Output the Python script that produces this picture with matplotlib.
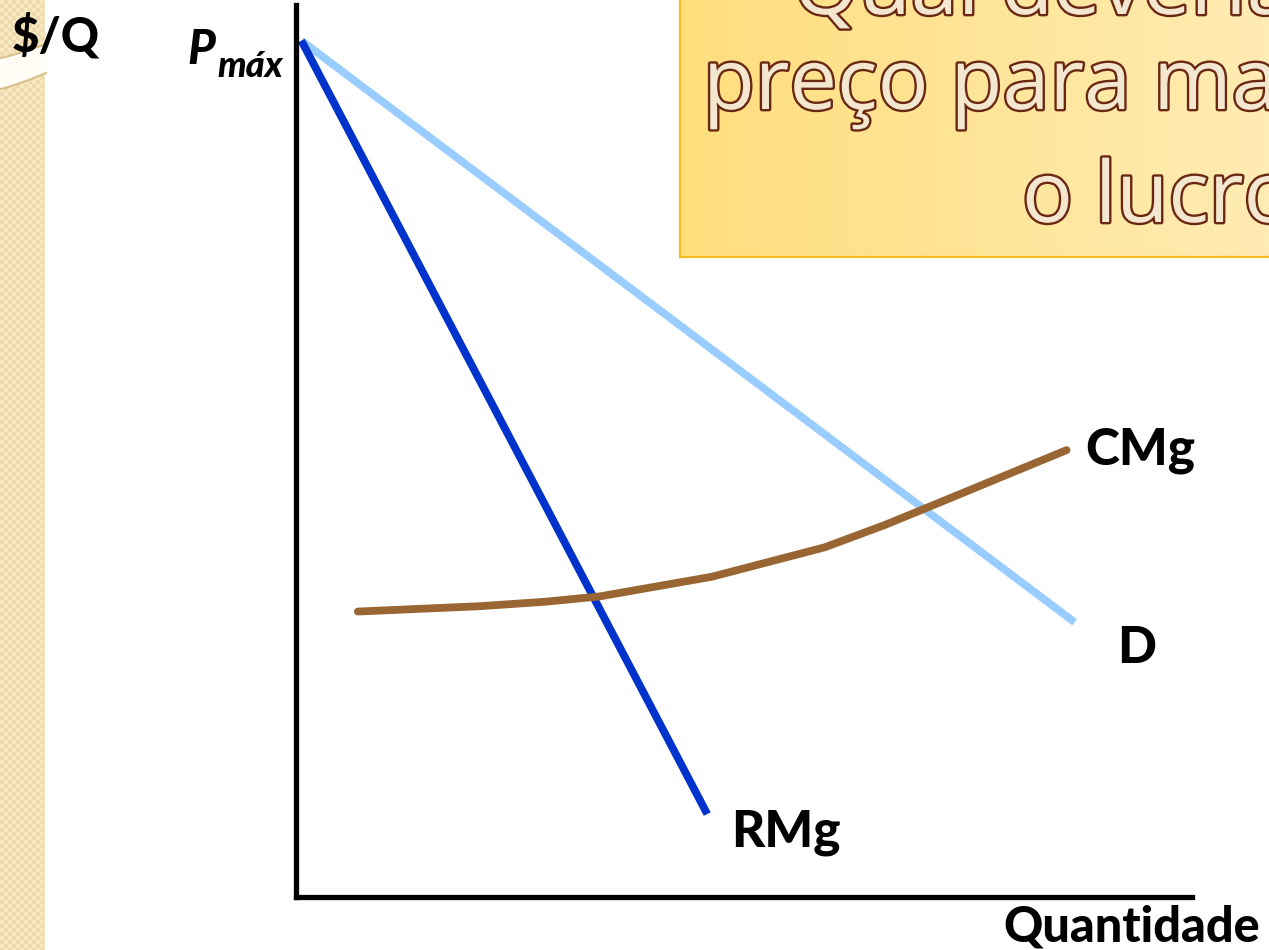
import numpy as np
import matplotlib
matplotlib.use("Agg")
import matplotlib.pyplot as plt
from matplotlib.patches import Rectangle, Polygon
import matplotlib.patheffects as pe

# curve values (quantity, price)
p_max = 9.6
q_demand = [0.06, 8.69]
p_demand = [p_max, 3.08]
q_mr = [0.06, 4.59]
p_mr = [p_max, 0.93]
q_mc = [0.69, 2.05, 2.78, 3.39, 4.64, 5.90, 6.57, 7.08, 8.60]
p_mc = [3.20, 3.26, 3.31, 3.37, 3.59, 3.92, 4.17, 4.38, 5.01]

title_lines = ["Qual deveria ser o", "preço para maximizar", "o lucro?"]

W, H = 1269, 950
fig = plt.figure(figsize=(W / 100, H / 100), dpi=100)
fig.patch.set_facecolor("white")

# slide decoration layer in pixel units
bg = fig.add_axes([0, 0, 1, 1], zorder=0)
bg.axis("off")

# textured side strip
ii, jj = np.mgrid[0:H, 0:45]
cell = ((ii // 4) + (jj // 4)) % 2
tex = np.empty((H, 45, 3))
tex[cell == 0] = np.array([247, 232, 194]) / 255
tex[cell == 1] = np.array([238, 219, 175]) / 255
bg.imshow(tex, extent=[0, 45, H, 0], aspect="auto", interpolation="nearest", zorder=1)

xs = np.linspace(0, 46, 30)
top = 58 - 14 * (xs / 46) ** 1.2
bot = 89 - 16 * (xs / 46) ** 1.2
band = np.column_stack([np.r_[xs, xs[::-1]], np.r_[top, bot[::-1]]])
bg.add_patch(Polygon(band, closed=True, facecolor="#fffdf6", edgecolor="none", zorder=2))
bg.plot(xs, top, color="#d8c08c", lw=1.5, zorder=3)
bg.plot(xs, bot, color="#d8c08c", lw=1.5, zorder=3)

# yellow title box
grad = np.linspace(0, 1, 256)[None, :, None]
c0 = np.array([255, 222, 125]) / 255
c1 = np.array([255, 236, 180]) / 255
box_img = c0 + (c1 - c0) * grad
bg.imshow(box_img, extent=[680, W + 5, 257, -5], aspect="auto", zorder=2)
bg.add_patch(Rectangle((680, -5), W + 10 - 680, 262, facecolor="none",
                       edgecolor="#f7bd1c", lw=1.6, zorder=3))

bg.set_xlim(0, W)
bg.set_ylim(H, 0)

outline = [pe.withStroke(linewidth=3.4, foreground="#6a2812")]
title_pos = [(793, 14), (703, 109), (1022, 222)]
for line, (tx, ty) in zip(title_lines, title_pos):
    bg.text(tx, ty, line, fontsize=61, family="Open Sans", color="#f3e7d0",
            ha="left", va="baseline", path_effects=outline, zorder=4)

# y axis label
bg.text(12, 51, "$/Q", fontsize=34, family="Lato", weight="black",
        color="black", ha="left", va="baseline", zorder=5)

# chart
ax = fig.add_axes([296 / W, 1 - 897 / H, (1192 - 296) / W, (897 - 5) / H], zorder=2)
ax.set_xlim(0, 10)
ax.set_ylim(0, 10)
ax.patch.set_alpha(0)
for s in ["top", "right"]:
    ax.spines[s].set_visible(False)
for s in ["left", "bottom"]:
    ax.spines[s].set_linewidth(3.8)
    ax.spines[s].set_capstyle("projecting")
ax.set_xticks([])
ax.set_yticks([])

ax.plot(q_demand, p_demand, color="#99ccff", lw=5.6, solid_capstyle="butt")
ax.plot(q_mr, p_mr, color="#0033cc", lw=5.6, solid_capstyle="butt")
ax.plot(q_mc, p_mc, color="#996633", lw=5.6, solid_capstyle="round")

lab = dict(fontsize=37, family="Lato", weight="black", color="black",
           ha="left", va="baseline", clip_on=False)
ax.text(q_mc[-1] + 0.21, p_mc[-1] - 0.16, "CMg", **lab)
ax.text(q_demand[-1] + 0.47, p_demand[-1] - 0.46, "D", **lab)
ax.text(q_mr[-1] + 0.27, p_mr[-1] - 0.36, "RMg", **lab)

# P max on the price axis
bg.text(187, 64, "P", fontsize=34, family="Lato", weight="black", style="italic",
        ha="left", va="baseline", zorder=5)
bg.text(217, 77, "máx", fontsize=26, family="Lato", weight="black", style="italic",
        ha="left", va="baseline", zorder=5)

bg.text(1003, 941, "Quantidade", fontsize=35, family="Lato", weight="black",
        ha="left", va="baseline", zorder=5)

fig.savefig("out.png", dpi=100)
plt.close(fig)
